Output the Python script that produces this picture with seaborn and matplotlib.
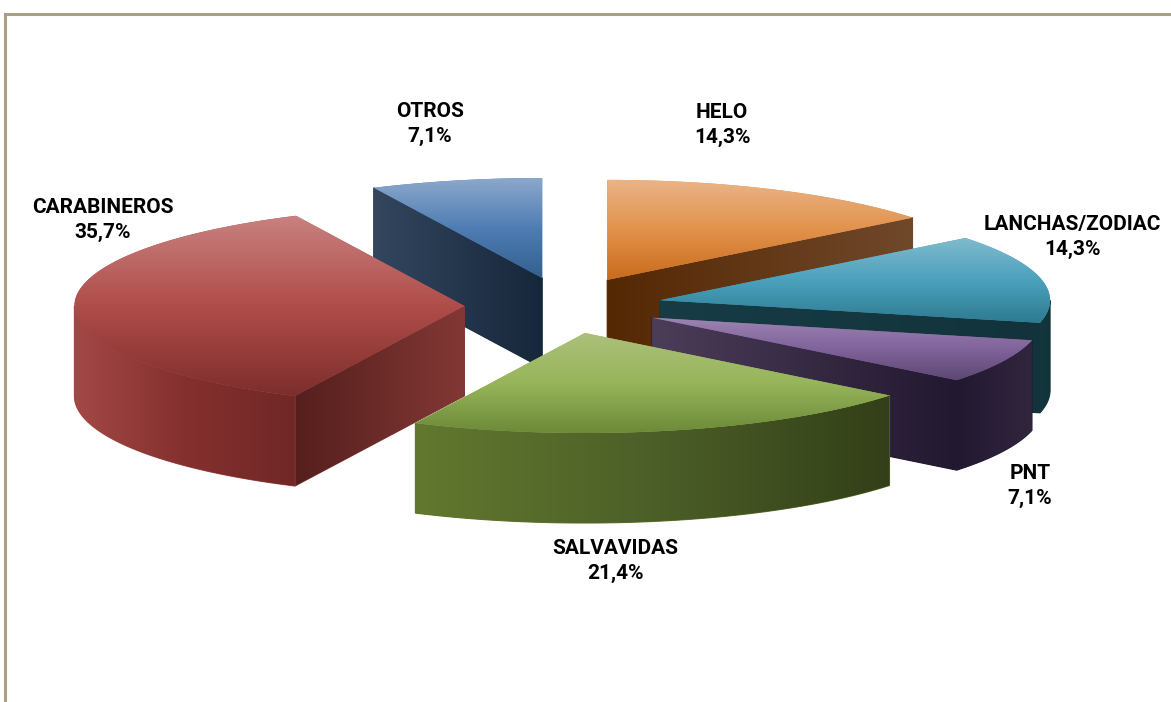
import numpy as np
import matplotlib
matplotlib.use("Agg")
import matplotlib.pyplot as plt
import seaborn as sns
from matplotlib.patches import Polygon

categories = ["HELO", "LANCHAS/ZODIAC", "PNT", "SALVAVIDAS", "CARABINEROS", "OTROS"]
percent = [14.3, 14.3, 7.1, 21.4, 35.7, 7.1]

explode = [0.29, 0.263, 0.268, 0.277, 0.24, 0.287]
nudge_px = {"OTROS": 9, "SALVAVIDAS": 3, "LANCHAS/ZODIAC": 2}
draw_order = ["OTROS", "HELO", "LANCHAS/ZODIAC", "PNT", "CARABINEROS", "SALVAVIDAS"]

top_colors = {
    "HELO": ["#EAB488", "#E2924C", "#C86C1C"],
    "LANCHAS/ZODIAC": ["#80BACD", "#4AA1BD", "#2E7A90"],
    "PNT": ["#9C85B2", "#80639B", "#5C4872"],
    "SALVAVIDAS": ["#ACC07C", "#97B55A", "#6C8A38"],
    "CARABINEROS": ["#C88280", "#B04D4A", "#7C2E2C"],
    "OTROS": ["#8CA8CC", "#4F7DB3", "#33608E"],
}
outer_colors = {
    "HELO": ["#6A3A10", "#6A3A10"],
    "LANCHAS/ZODIAC": ["#14363E", "#123339"],
    "PNT": ["#221830", "#32263F"],
    "SALVAVIDAS": ["#62782F", "#4C5F28", "#333F18"],
    "CARABINEROS": ["#A34846", "#84302E", "#702827"],
    "OTROS": ["#2A3E58", "#2A3E58"],
}
radial_colors = {
    "HELO": ["#552804", "#70482A"],
    "LANCHAS/ZODIAC": ["#173C46", "#12333B"],
    "PNT": ["#4C3D58", "#221830"],
    "SALVAVIDAS": ["#62782F", "#333F18"],
    "CARABINEROS": ["#551F1D", "#823835"],
    "OTROS": ["#34465E", "#16273B"],
}
label_pos_px = {
    "HELO": (722, 125),
    "LANCHAS/ZODIAC": (1072, 237),
    "PNT": (1030, 486),
    "SALVAVIDAS": (615, 561),
    "CARABINEROS": (103, 220),
    "OTROS": (430, 124),
}

BORDER = "#A89F85"
W, H = 1171, 702
RX, RY = 390.0, 100.0      # pixels per data unit
DEPTH = 0.9                # extrusion, data units
BORDER_X, BORDER_Y = 5, 14
CENTER_PX = (558, 306)


def px(x, y):
    return x / RX, (H - y) / RY


sns.set_theme(style="white")
plt.rcParams["font.family"] = ["Roboto", "Liberation Sans", "DejaVu Sans"]

fig = plt.figure(figsize=(W / 100, H / 100), dpi=100, facecolor="white")
ax = fig.add_axes([BORDER_X / W, 0, (W - BORDER_X) / W, (H - BORDER_Y) / H])

wedges, _ = ax.pie(
    percent,
    explode=explode,
    startangle=90,
    counterclock=False,
    radius=1,
    center=px(*CENTER_PX),
    frame=True,
)
ax.set_aspect("auto")
xlim = (BORDER_X / RX, W / RX)
ylim = (0, (H - BORDER_Y) / RY)


def fill_gradient(patch, stops, vertical, z):
    """Paint a patch with a blended gradient clipped to its own outline."""
    verts = patch.get_xy()
    x0, x1 = verts[:, 0].min(), verts[:, 0].max()
    y0, y1 = verts[:, 1].min(), verts[:, 1].max()
    ramp = np.array(sns.blend_palette(stops, n_colors=256))[:, :3]
    img = ramp[:, None, :] if vertical else ramp[None, :, :]
    im = ax.imshow(img, extent=(x0, x1, y0, y1), origin="upper", aspect="auto",
                   interpolation="bilinear", zorder=z)
    im.set_clip_path(patch)


def arc(cx, cy, angles):
    return np.column_stack([cx + np.cos(angles), cy + np.sin(angles)])


for wedge, name in zip(wedges, categories):
    z = draw_order.index(name) * 10 + 10
    cx, cy = wedge.center
    cx += nudge_px.get(name, 0) / RX
    t1, t2 = np.radians(wedge.theta1), np.radians(wedge.theta2)
    drop = np.array([0, DEPTH])

    # radial walls that face the viewer
    wall_edges = []
    if np.cos(t1) > 1e-6:
        wall_edges.append(t1)
    if np.cos(t2) < -1e-6:
        wall_edges.append(t2)
    for t in wall_edges:
        a = np.array([cx, cy])
        b = a + [np.cos(t), np.sin(t)]
        base = radial_colors[name][-1]
        poly = Polygon(np.array([a, b, b - drop, a - drop]), closed=True,
                       facecolor=base, edgecolor=base, linewidth=0.8, zorder=z)
        ax.add_patch(poly)
        fill_gradient(poly, radial_colors[name], False, z + 1)

    # curved outer wall
    ang = np.linspace(t1, t2, 200)
    ang = ang[np.sin(ang) < 0]
    if ang.size > 1:
        upper = arc(cx, cy, ang)
        lower = upper - drop
        base = outer_colors[name][0]
        poly = Polygon(np.vstack([upper, lower[::-1]]), closed=True,
                       facecolor=base, edgecolor=base, linewidth=0.8, zorder=z + 2)
        ax.add_patch(poly)
        fill_gradient(poly, outer_colors[name], False, z + 3)

    # top face
    full = np.vstack([[cx, cy], arc(cx, cy, np.linspace(t1, t2, 200))])
    top = Polygon(full, closed=True, facecolor=top_colors[name][1], edgecolor="none", zorder=z + 4)
    ax.add_patch(top)
    fill_gradient(top, top_colors[name], True, z + 5)
    wedge.set_visible(False)

    label = f"{name}\n{percent[categories.index(name)]:.1f}%".replace(".", ",")
    ax.text(*px(*label_pos_px[name]), label, ha="center", va="center", color="black",
            fontsize=15, fontweight="bold", linespacing=1.4, zorder=200)

ax.set_xlim(*xlim)
ax.set_ylim(*ylim)
ax.set_xticks([])
ax.set_yticks([])
ax.set_facecolor("white")
sns.despine(ax=ax, top=False, left=False, right=True, bottom=True)
for side in ("top", "left"):
    ax.spines[side].set_color(BORDER)
    ax.spines[side].set_linewidth(2.2)

fig.savefig("out.png", dpi=100, facecolor="white")
